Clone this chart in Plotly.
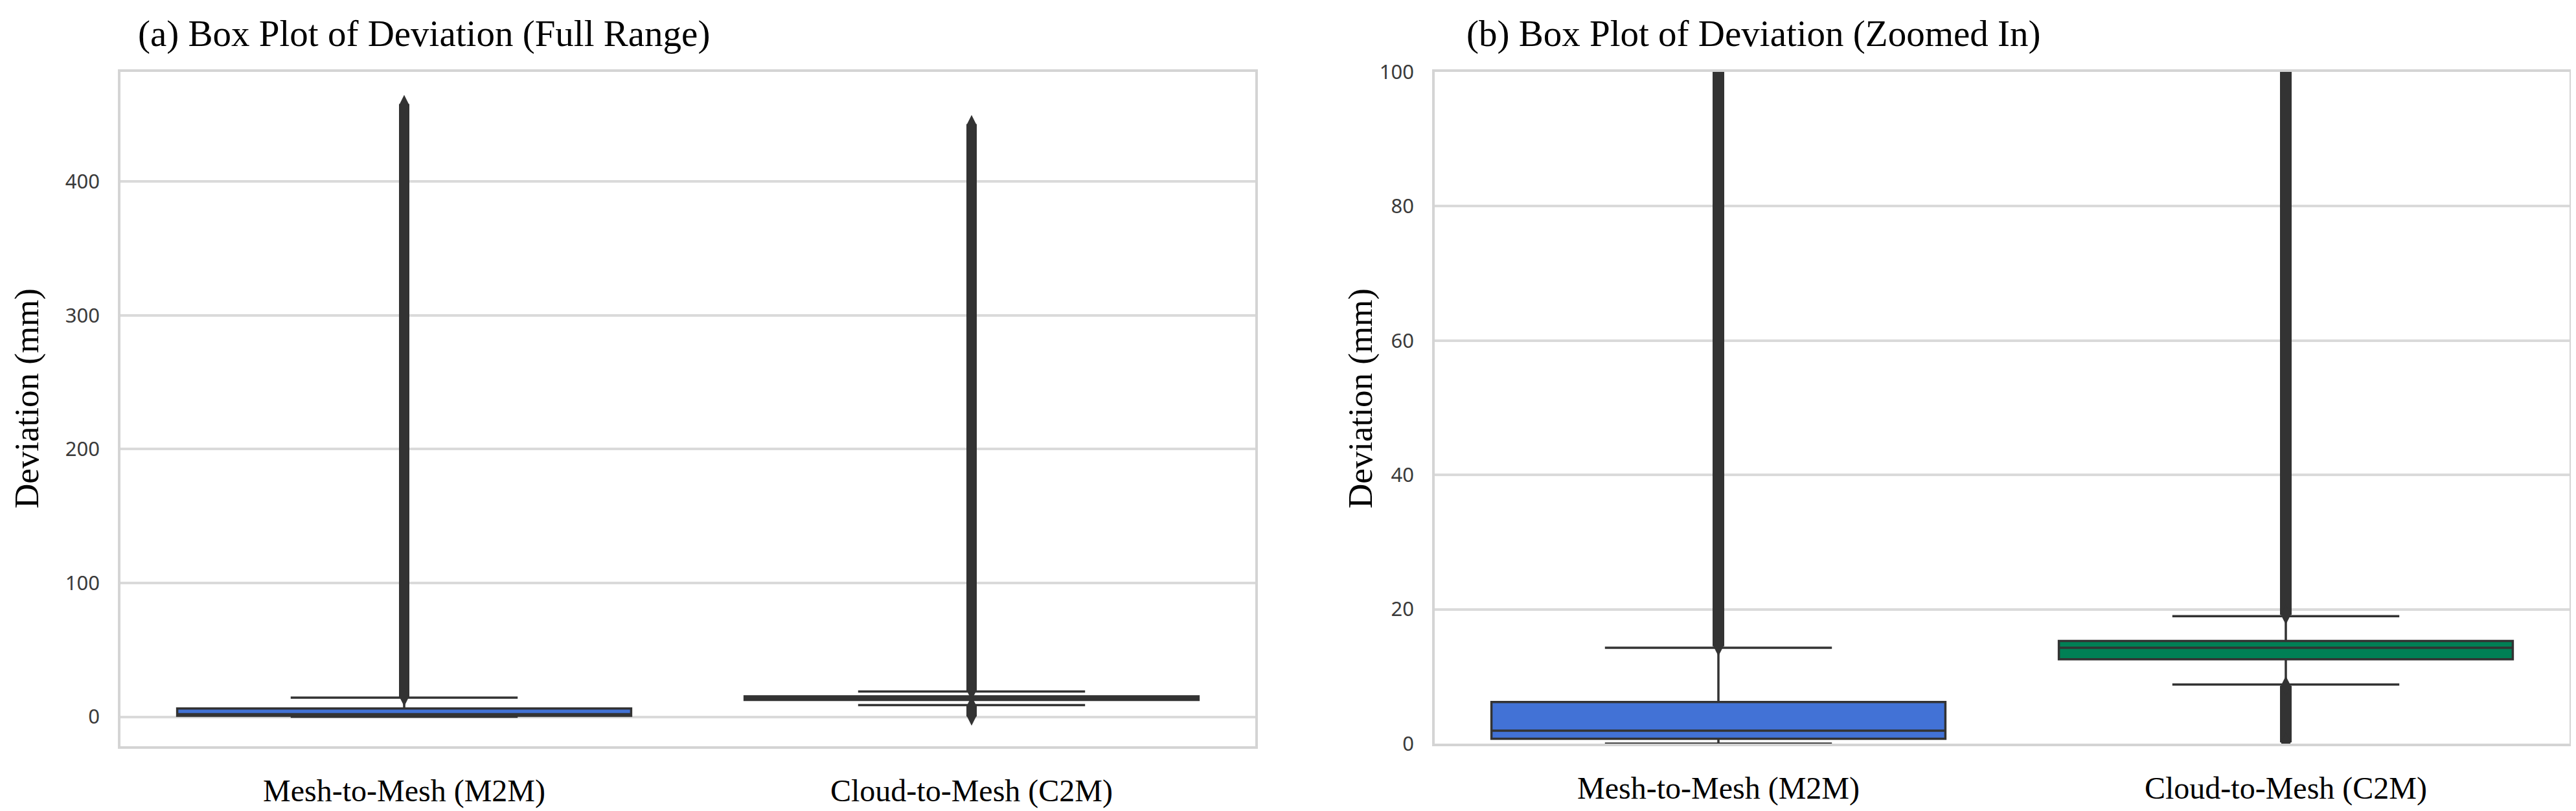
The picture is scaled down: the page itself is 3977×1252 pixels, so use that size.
import plotly.graph_objects as go

# ---------------- data ----------------
categories = ["Mesh-to-Mesh (M2M)", "Cloud-to-Mesh (C2M)"]
q1 = [0.72, 12.56]
median = [1.94, 14.27]
q3 = [6.20, 15.28]
lower_whisker = [0.0, 8.80]
upper_whisker = [14.27, 18.97]
box_colors = ["#4272D6", "#008055"]

# dense outliers form continuous bands: [start, end] of each band
upper_outlier_start = [14.5, 19.2]
upper_outlier_end = [458.0, 443.0]
lower_outlier_start = [None, 8.6]
lower_outlier_end = [None, 0.2]

full_ticks = [0, 100, 200, 300, 400]
zoom_ticks = [0, 20, 40, 60, 80, 100]
full_range = [-22, 482]
zoom_range = [0, 100]

titles = ["(a) Box Plot of Deviation (Full Range)", "(b) Box Plot of Deviation (Zoomed In)"]
y_title = "Deviation (mm)"

# ---------------- figure ----------------
W, H = 3977, 1252
OFF = 8  # page body margin offset
DARK = "#333333"
GRID = "#dadada"
SERIF = "Liberation Serif, Times New Roman, serif"
SANS = "Noto Sans, DejaVu Sans, sans-serif"


def px(x):
    return (x - OFF) / W


def py(y):
    return 1 - (y - OFF) / H


fig = go.Figure()

panels = [("x", "y"), ("x2", "y2")]
band_widths = [16, 18]
for k, (xa, ya) in enumerate(panels):
    for i, cat in enumerate(categories):
        fig.add_trace(go.Box(
            x=[cat], q1=[q1[i]], median=[median[i]], q3=[q3[i]],
            lowerfence=[lower_whisker[i]], upperfence=[upper_whisker[i]],
            fillcolor=box_colors[i], line=dict(color=DARK, width=3.5),
            width=0.8, whiskerwidth=0.5, boxpoints=False,
            showlegend=False, hoverinfo="skip", xaxis=xa, yaxis=ya))
    for i, cat in enumerate(categories):
        bands = [(upper_outlier_start[i], upper_outlier_end[i]),
                 (lower_outlier_start[i], lower_outlier_end[i])]
        for s, e in bands:
            if s is None:
                continue
            fig.add_trace(go.Scatter(
                x=[cat, cat], y=[s, e], mode="lines+markers",
                line=dict(color=DARK, width=band_widths[k]),
                marker=dict(symbol="diamond-tall", size=band_widths[k] + 4, color=DARK),
                showlegend=False, hoverinfo="skip", xaxis=xa, yaxis=ya))

xdomains = [[px(186), px(1938)], [px(2215), px(3967)]]
ydomains = [[py(1152), py(111)], [py(1148), py(111)]]

axis_line = dict(showline=True, mirror=True, linecolor="#d4d4d4", linewidth=3.5)
for k, (xa, ya) in enumerate(panels):
    xkey = "xaxis" if k == 0 else "xaxis2"
    ykey = "yaxis" if k == 0 else "yaxis2"
    fig.layout[xkey] = dict(
        domain=xdomains[k], anchor=ya, type="category",
        categoryorder="array", categoryarray=categories,
        range=[-0.5, 1.5], showgrid=False, zeroline=False, automargin=False,
        tickfont=dict(family=SERIF, size=48, color="black"),
        ticks="", ticklabelstandoff=24, **axis_line)
    fig.layout[ykey] = dict(
        domain=ydomains[k], anchor=xa, automargin=False,
        range=full_range if k == 0 else zoom_range,
        tickvals=full_ticks if k == 0 else zoom_ticks,
        showgrid=True, gridcolor=GRID, gridwidth=3.5, zeroline=False,
        tickfont=dict(family=SANS, size=31, color="#3a3a3a"),
        ticks="", ticklabelstandoff=22, **axis_line)

annotations = [
    dict(text=titles[0], x=px(211), y=py(52), xref="paper", yref="paper",
         xanchor="left", yanchor="middle", showarrow=False,
         font=dict(family=SERIF, size=57, color="black")),
    dict(text=titles[1], x=px(2262), y=py(52), xref="paper", yref="paper",
         xanchor="left", yanchor="middle", showarrow=False,
         font=dict(family=SERIF, size=57, color="black")),
    dict(text=y_title, x=px(41), y=py(615), xref="paper", yref="paper",
         xanchor="center", yanchor="middle", showarrow=False, textangle=-90,
         font=dict(family=SERIF, size=53, color="black")),
    dict(text=y_title, x=px(2100), y=py(615), xref="paper", yref="paper",
         xanchor="center", yanchor="middle", showarrow=False, textangle=-90,
         font=dict(family=SERIF, size=53, color="black")),
]

fig.update_layout(
    width=W, height=H, margin=dict(l=0, r=0, t=0, b=0, pad=0, autoexpand=False),
    paper_bgcolor="white", plot_bgcolor="white",
    boxmode="overlay", showlegend=False, annotations=annotations)

fig.write_html("out.html")
